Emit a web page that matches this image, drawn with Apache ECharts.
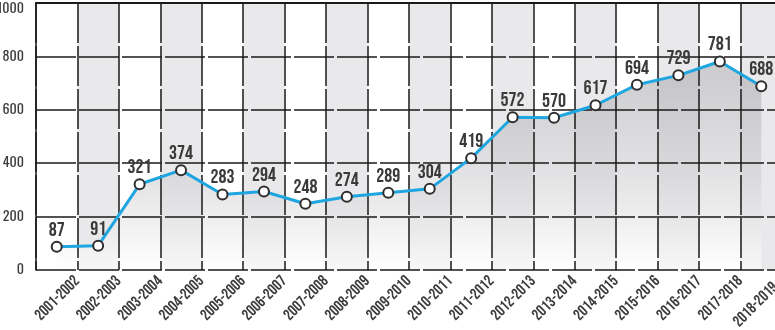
<!DOCTYPE html>
<html>
<head>
<meta charset="utf-8">
<script src="https://cdn.jsdelivr.net/npm/echarts@6/dist/echarts.min.js"></script>
<style>
  html, body { margin: 0; padding: 0; background: #fff; }
  #chart { width: 775px; height: 330px; }
</style>
</head>
<body>
<div id="chart"></div>
<script>
// Seasons shown along the bottom
const seasons = ['2001-2002','2002-2003','2003-2004','2004-2005','2005-2006','2006-2007',
  '2007-2008','2008-2009','2009-2010','2010-2011','2011-2012','2012-2013','2013-2014',
  '2014-2015','2015-2016','2016-2017','2017-2018','2018-2019'];
// Value per season
const values = [87, 91, 321, 374, 283, 294, 248, 274, 289, 304, 419, 572, 570, 617, 694, 729, 781, 688];
// Value axis range
const yMin = 0, yMax = 1000, yStep = 200;

const boldNarrow = '"Bebas Neue", "Oswald", "Roboto Condensed", sans-serif';
const thinNarrow = '"Oswald", "Roboto Condensed", sans-serif';
const gridLine = { color: '#1a1a1a', width: 1.5, type: [40, 3] };
const yLabelStyle = { color: '#3c3c3c', fontFamily: thinNarrow, fontWeight: 400, fontSize: 14 };

const chart = echarts.init(document.getElementById('chart'), null, { renderer: 'canvas' });
chart.setOption({
  animation: false,
  grid: { left: 36, top: 3, width: 746, height: 267, outerBoundsMode: 'none', containLabel: false },
  xAxis: [
    {
      // alternating column shading, kept beneath the area
      type: 'category',
      data: seasons,
      boundaryGap: true,
      z: 0,
      axisLine: { show: false },
      axisTick: { show: false },
      axisLabel: { show: false },
      splitLine: { show: false },
      splitArea: { show: true, interval: 0, areaStyle: { color: ['#ffffff', '#e9e9eb'] } }
    },
    {
      // column rules and baseline, drawn over the area
      type: 'category',
      data: seasons,
      boundaryGap: true,
      z: 10,
      axisLine: { lineStyle: { color: '#1a1a1a', width: 2 } },
      axisTick: { show: false },
      axisLabel: { show: false },
      splitLine: { show: true, interval: 0, lineStyle: gridLine }
    },
    {
      // label track: season names sit on the column edges
      type: 'category',
      position: 'bottom',
      data: [''].concat(seasons),
      boundaryGap: false,
      axisLine: { show: false },
      axisTick: { show: false },
      splitLine: { show: false },
      axisLabel: {
        interval: 0,
        rotate: 45,
        margin: 9,
        color: '#3c3c3c',
        fontFamily: boldNarrow,
        fontSize: 16,
        // keep the final season inside the right edge
        formatter: (v, i) => (i === seasons.length ? '{last|' + v + '}' : v),
        rich: { last: { padding: [0, 9, 0, 0], color: '#3c3c3c', fontFamily: boldNarrow, fontSize: 16 } }
      }
    }
  ],
  yAxis: {
    type: 'value',
    min: yMin, max: yMax, interval: yStep,
    z: 10,
    axisLine: { show: true, lineStyle: { color: '#1a1a1a', width: 1.5 } },
    axisTick: { show: false },
    axisLabel: Object.assign({ margin: 12, showMaxLabel: false, formatter: v => String(v) }, yLabelStyle),
    splitLine: { show: true, lineStyle: gridLine }
  },
  series: [
    {
      // shaded area under the line, below the grid rules
      type: 'line',
      xAxisIndex: 1,
      data: values,
      symbol: 'none',
      z: 5,
      silent: true,
      lineStyle: { width: 0, opacity: 0 },
      areaStyle: {
        color: new echarts.graphic.LinearGradient(0, 0, 0, 1, [
          { offset: 0, color: 'rgba(172,172,177,0.9)' },
          { offset: 0.55, color: 'rgba(208,208,211,0.85)' },
          { offset: 1, color: 'rgba(255,255,255,0.95)' }
        ])
      }
    },
    {
      // the line itself with markers and value labels, above the grid rules
      type: 'line',
      xAxisIndex: 1,
      data: values,
      symbol: 'circle',
      symbolSize: 10,
      z: 12,
      itemStyle: { color: '#ffffff', borderColor: '#2e2e2e', borderWidth: 2 },
      lineStyle: { color: '#1fa6e0', width: 3 },
      label: {
        show: true,
        position: 'top',
        distance: 0,
        color: '#3a3a3a',
        fontFamily: boldNarrow,
        fontSize: 20
      }
    }
  ]
});

// Top value label, placed from the axis scale and nudged down to stay on the canvas
const topY = chart.convertToPixel({ yAxisIndex: 0 }, yMax);
const axisX = chart.convertToPixel({ xAxisIndex: 1 }, 0) - 20.7;
chart.setOption({
  graphic: [{
    type: 'text',
    x: axisX - 12,
    y: topY + 6,
    z: 20,
    style: Object.assign({ text: String(yMax), align: 'right', verticalAlign: 'middle' }, yLabelStyle,
      { fill: yLabelStyle.color })
  }]
});
</script>
</body>
</html>
